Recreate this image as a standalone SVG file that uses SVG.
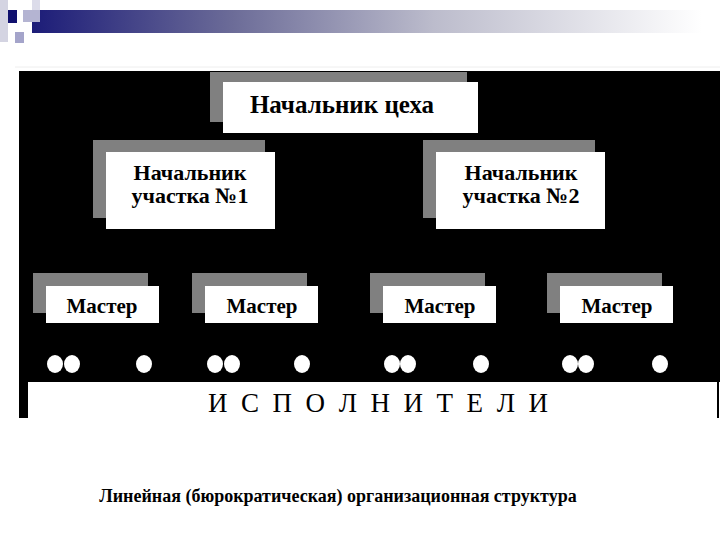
<svg xmlns="http://www.w3.org/2000/svg" width="720" height="540" viewBox="0 0 720 540">
<style>
.shadow{fill:#808080}
.box{fill:#ffffff}
.lbl{font-family:"Liberation Serif","DejaVu Serif",serif;font-weight:bold;fill:#000;text-anchor:middle}
.dot{fill:#ffffff}
.stub{stroke:#000;stroke-width:2}
</style>
<defs>
<linearGradient id="bar" x1="0" y1="0" x2="1" y2="0">
<stop offset="0" stop-color="#1c1c78"/>
<stop offset="0.3" stop-color="#6c6c98"/>
<stop offset="0.6" stop-color="#bcbccc"/>
<stop offset="1" stop-color="#ffffff"/>
</linearGradient>
</defs>
<rect width="720" height="540" fill="#ffffff"/>
<g id="header">
<rect x="32" y="10" width="670" height="23" fill="url(#bar)"/>
<rect x="0" y="0" width="8" height="42" fill="#d4d4e2"/>
<rect x="32" y="0" width="8" height="10" fill="#dcdcea"/>
<rect x="23" y="10" width="17" height="12" fill="#b4b4d2"/>
<rect x="8" y="10" width="9" height="13" fill="#10106e"/>
<rect x="15" y="32" width="9" height="11" fill="#a4a4ca"/>
<line x1="15" y1="67" x2="720" y2="67" stroke="#eeeeee" stroke-width="1"/>
</g>
<g id="background">
<rect x="19" y="71" width="701" height="311" fill="#000"/>
<rect x="19" y="382" width="9" height="36" fill="#000"/>
<rect x="717" y="382" width="2" height="36" fill="#000"/>
</g>
<g id="connectors">
<line class="stub" x1="346" y1="128" x2="346" y2="134"/>
<line class="stub" x1="133" y1="224" x2="133" y2="230"/>
<line class="stub" x1="242" y1="224" x2="242" y2="230"/>
<line class="stub" x1="470" y1="224" x2="470" y2="230"/>
<line class="stub" x1="577" y1="224" x2="577" y2="230"/>
</g>
<g id="head">
<rect class="shadow" x="210" y="72" width="257" height="50"/>
<rect class="box" x="223" y="82" width="255" height="51"/>
<text class="lbl" x="342" y="113" font-size="25">Начальник цеха</text>
</g>
<g id="section1">
<rect class="shadow" x="93" y="140" width="172" height="78"/>
<rect class="box" x="106" y="152" width="169" height="77"/>
<text class="lbl" x="190" y="180" font-size="22">Начальник</text>
<text class="lbl" x="190" y="203" font-size="22">участка №1</text>
</g>
<g id="section2">
<rect class="shadow" x="423" y="140" width="172" height="78"/>
<rect class="box" x="436" y="152" width="169" height="77"/>
<text class="lbl" x="521" y="180" font-size="22">Начальник</text>
<text class="lbl" x="521" y="203" font-size="22">участка №2</text>
</g>
<g id="master1">
<rect class="shadow" x="33" y="273" width="115" height="40"/>
<rect class="box" x="46" y="286" width="113" height="37"/>
<text class="lbl" x="102" y="313" font-size="21">Мастер</text>
</g>
<g id="master2">
<rect class="shadow" x="192" y="273" width="115" height="40"/>
<rect class="box" x="205" y="286" width="113" height="37"/>
<text class="lbl" x="262" y="313" font-size="21">Мастер</text>
</g>
<g id="master3">
<rect class="shadow" x="370" y="273" width="115" height="40"/>
<rect class="box" x="383" y="286" width="113" height="37"/>
<text class="lbl" x="440" y="313" font-size="21">Мастер</text>
</g>
<g id="master4">
<rect class="shadow" x="547" y="273" width="115" height="40"/>
<rect class="box" x="560" y="286" width="113" height="37"/>
<text class="lbl" x="617" y="313" font-size="21">Мастер</text>
</g>
<g id="workers">
<ellipse class="dot" cx="55" cy="364" rx="8" ry="9"/>
<ellipse class="dot" cx="72" cy="364" rx="8" ry="9"/>
<ellipse class="dot" cx="144" cy="364" rx="8" ry="9"/>
<ellipse class="dot" cx="215" cy="364" rx="8" ry="9"/>
<ellipse class="dot" cx="232" cy="364" rx="8" ry="9"/>
<ellipse class="dot" cx="302" cy="364" rx="8" ry="9"/>
<ellipse class="dot" cx="392" cy="364" rx="8" ry="9"/>
<ellipse class="dot" cx="408" cy="364" rx="8" ry="9"/>
<ellipse class="dot" cx="481" cy="364" rx="8" ry="9"/>
<ellipse class="dot" cx="570" cy="364" rx="8" ry="9"/>
<ellipse class="dot" cx="586" cy="364" rx="8" ry="9"/>
<ellipse class="dot" cx="660" cy="364" rx="8" ry="9"/>
</g>
<g id="executors">
<text x="208" y="412" font-family="'Liberation Serif','DejaVu Serif',serif" font-size="27" fill="#000" textLength="340" lengthAdjust="spacing">И С П О Л Н И Т Е Л И</text>
</g>
<g id="caption">
<text x="338" y="502" font-family="'Liberation Serif','DejaVu Serif',serif" font-weight="bold" font-size="18" fill="#000" text-anchor="middle">Линейная (бюрократическая) организационная структура</text>
</g>
</svg>
